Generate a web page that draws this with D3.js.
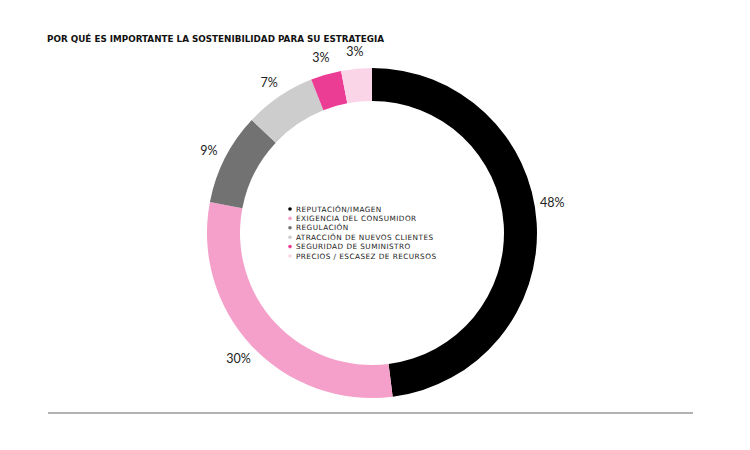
<!DOCTYPE html>
<html>
<head>
<meta charset="utf-8">
<script src="https://cdn.jsdelivr.net/npm/d3@7"></script>
<style>
body { margin: 0; background: #fff; }
svg text { font-family: "DejaVu Sans", sans-serif; }
</style>
</head>
<body>
<script>
// datos
var categorias = ["REPUTACIÓN/IMAGEN", "EXIGENCIA DEL CONSUMIDOR", "REGULACIÓN", "ATRACCIÓN DE NUEVOS CLIENTES", "SEGURIDAD DE SUMINISTRO", "PRECIOS / ESCASEZ DE RECURSOS"];
var valores = [48, 30, 9, 7, 3, 3];
var etiquetas = ["48%", "30%", "9%", "7%", "3%", "3%"];
var colores = ["#000000", "#f4a0ca", "#727272", "#cdcdcd", "#ec3d95", "#fad5e7"];
var titulo = "POR QUÉ ES IMPORTANTE LA SOSTENIBILIDAD PARA SU ESTRATEGIA";

var width = 750, height = 450;
var cx = 372, cy = 233;
var rOut = 165, rIn = 132, rLabel = 183;

var svg = d3.select("body").append("svg").attr("width", width).attr("height", height);

//titulo
svg.append("text").attr("x", 47).attr("y", 42)
    .text(titulo)
    .attr("textLength", 337)
    .attr("lengthAdjust", "spacingAndGlyphs")
    .style("font-weight", "bold")
    .style("font-size", "8.4px")
    .style("fill", "#111");

var g = svg.append("g").attr("transform", "translate(" + cx + "," + cy + ")");

var pie = d3.pie().sort(null).value(function (d) { return d; });
var arcs = pie(valores);
var arc = d3.arc().innerRadius(rIn).outerRadius(rOut);

g.selectAll("path").data(arcs).enter().append("path")
    .attr("d", arc)
    .style("fill", function (d, i) { return colores[i]; });

//etiquetas de porcentaje
var nudge = [-0.11, 0, 0, 0, 0, 0];
g.selectAll("text.pct").data(arcs).enter().append("text")
    .classed("pct", true)
    .attr("x", function (d, i) {
        var a = (d.startAngle + d.endAngle) / 2 + nudge[i];
        return rLabel * Math.sin(a);
    })
    .attr("y", function (d, i) {
        var a = (d.startAngle + d.endAngle) / 2 + nudge[i];
        return -rLabel * Math.cos(a);
    })
    .attr("dy", "0.4em")
    .attr("text-anchor", "middle")
    .style("font-family", "Lato, sans-serif")
    .style("font-size", "12.5px")
    .style("fill", "#222")
    .text(function (d, i) { return etiquetas[i]; });

//leyenda
var leyenda = svg.append("g").attr("transform", "translate(290,209)");
var fila = leyenda.selectAll("g").data(categorias).enter().append("g")
    .attr("transform", function (d, i) { return "translate(0," + (i * 9.4) + ")"; });
fila.append("circle").attr("r", 1.8).attr("cx", 0).attr("cy", 0)
    .style("fill", function (d, i) { return colores[i]; });
fila.append("text").attr("x", 6).attr("y", 0).attr("dy", "0.35em")
    .style("font-size", "7.3px")
    .style("letter-spacing", "0.45px")
    .style("fill", "#222")
    .text(function (d) { return d; });

//linea inferior
svg.append("line").attr("x1", 48).attr("x2", 693).attr("y1", 413).attr("y2", 413)
    .style("stroke", "#666").style("stroke-width", 1);
</script>
</body>
</html>
